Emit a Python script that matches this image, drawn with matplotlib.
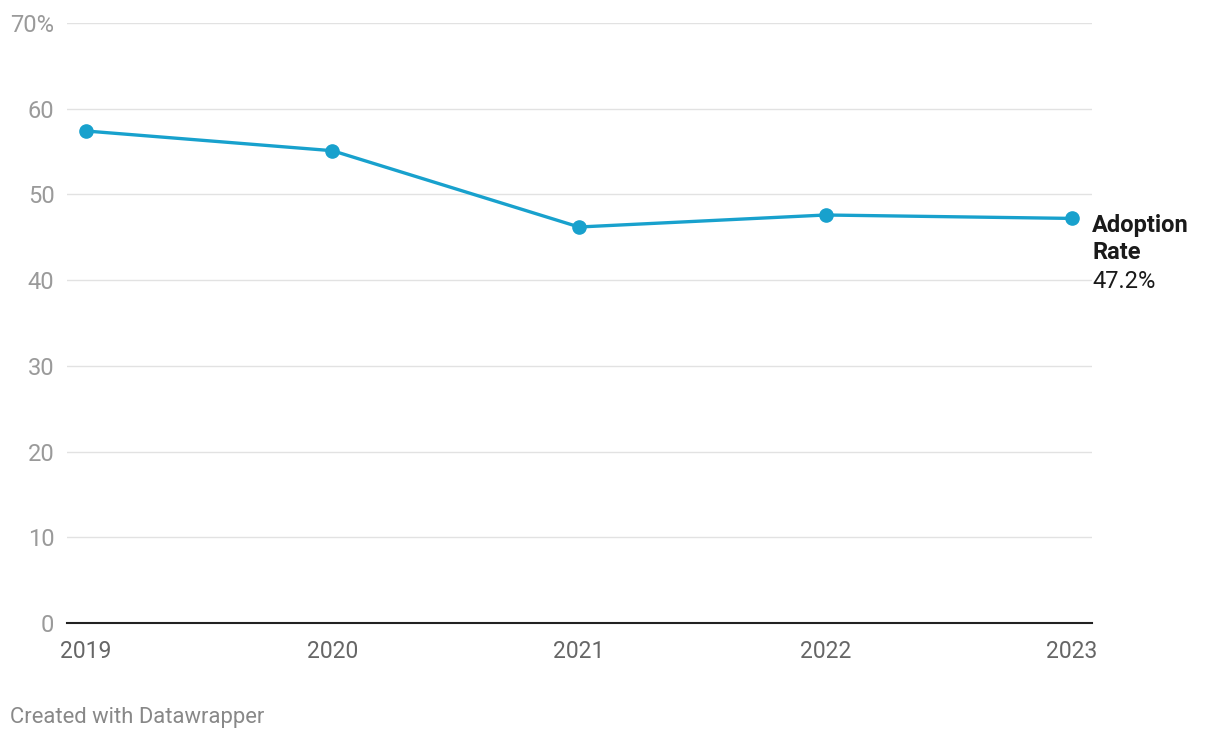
import matplotlib
matplotlib.use("Agg")
from matplotlib import pyplot as plt

# data
years = [2019, 2020, 2021, 2022, 2023]
adoption_rate = [57.4, 55.1, 46.2, 47.6, 47.2]
y_ticks = [0, 10, 20, 30, 40, 50, 60, 70]
y_tick_labels = ["0", "10", "20", "30", "40", "50", "60", "70%"]
series_name = ["Adoption", "Rate"]

LINE_COLOR = "#18a1cd"

plt.rcParams["font.family"] = ["Roboto", "DejaVu Sans"]

fig = plt.figure(figsize=(12.2, 7.4), dpi=100)
ax = fig.add_axes([67 / 1220, 1 - 623 / 740, (1092 - 67) / 1220, 600 / 740])

ax.plot(years, adoption_rate, color=LINE_COLOR, linewidth=2.4,
        marker="o", markersize=9.5, zorder=3, solid_capstyle="round")

ax.set_xlim(2018.923, 2023.081)
ax.set_ylim(0, 70)

ax.set_yticks(y_ticks)
ax.set_yticklabels(y_tick_labels)
ax.set_xticks(years)
ax.set_xticklabels([str(y) for y in years])

ax.grid(axis="y", color="#e2e2e2", linewidth=1)
ax.set_axisbelow(True)
for side in ["top", "right", "left"]:
    ax.spines[side].set_visible(False)
ax.spines["bottom"].set_color("#222222")
ax.spines["bottom"].set_linewidth(1.5)
ax.spines["bottom"].set_zorder(4)

ax.tick_params(axis="y", length=0, pad=9, labelsize=17, labelcolor="#9a9a9a")
ax.tick_params(axis="x", length=0, pad=12, labelsize=16.5, labelcolor="#666666")

# end label, one line at a time
last_y = adoption_rate[-1]
lines = [(series_name[0], "bold", -7), (series_name[1], "bold", -34),
         (f"{last_y:.1f}%", "normal", -63)]
for txt, weight, dy in lines:
    ax.annotate(txt, xy=(1, last_y), xycoords=("axes fraction", "data"),
                xytext=(0, dy), textcoords="offset pixels",
                ha="left", va="center", fontsize=17, fontweight=weight,
                color="#1a1a1a", annotation_clip=False)

fig.text(10 / 1220, 1 - 717 / 740, "Created with Datawrapper", fontsize=15.8,
         color="#888888", ha="left", va="center")

fig.savefig("out.png", dpi=100, facecolor="white")
